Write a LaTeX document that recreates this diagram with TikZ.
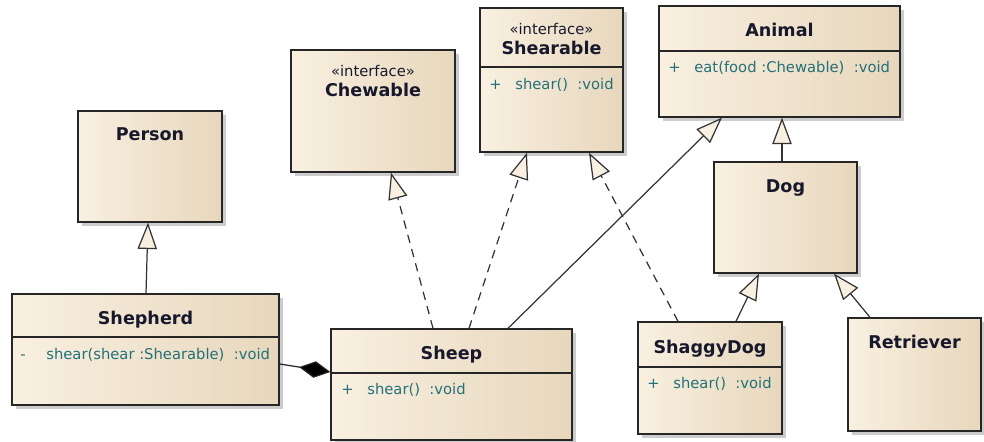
\documentclass[tikz,border=0pt]{standalone}
\usepackage{fontspec}
\setmainfont{DejaVu Sans}
\usetikzlibrary{arrows.meta, positioning, fit, shadows}
\definecolor{classlight}{RGB}{249,240,225}
\definecolor{classmid}{RGB}{250,242,230}
\definecolor{classdark}{RGB}{231,215,188}
\definecolor{namecol}{RGB}{24,24,44}
\definecolor{membercol}{RGB}{36,112,120}
\tikzstyle{umlclass} = [rectangle, inner sep=0pt, draw=black!85, line width=0.75pt, left color=classlight, middle color=classmid, right color=classdark, drop shadow={shadow xshift=0.08cm, shadow yshift=-0.08cm, fill=black!20, opacity=1}]
\tikzstyle{sep} = [draw=black!85, line width=0.6pt]
\tikzstyle{classname} = [inner sep=0pt, anchor=mid, font=\bfseries, text=namecol]
\tikzstyle{stereo} = [inner sep=0pt, anchor=mid, text=namecol]
\tikzstyle{member} = [inner sep=0pt, anchor=mid west, text=membercol]
\tikzstyle{inherit} = [draw=black!80, line width=0.7pt, -{Triangle[length=15pt, width=11pt, fill=classlight]}]
\tikzstyle{realize} = [inherit, dash pattern=on 4.8pt off 3.6pt]
\tikzstyle{compose} = [draw=black!85, line width=0.7pt, -{Diamond[length=18pt, width=9.5pt, fill=black]}]
\newcommand{\vis}[1]{\makebox[0.52cm][l]{#1}}

\begin{document}
\begin{tikzpicture}[x=0.02cm, y=-0.02cm, font=\fontsize{8.4}{10}\selectfont]
\useasboundingbox (0,0) rectangle (984,442);

\node (person) [umlclass, fit={(78,111) (222,222)}] {};
\node (personname) [classname] at (person.north |- 0,136) {Person};

\node (shepherd) [umlclass, fit={(12,294) (279,405)}] {};
\node (shepherdname) [classname] at (shepherd.north |- 0,320) {Shepherd};
\draw [sep] (shepherd.west |- 0,337) -- (shepherd.east |- 0,337);
\node (shepherdop) [member] at (20,355) {\vis{-}shear(shear :Shearable)~~:void};

\node (chewable) [umlclass, fit={(291,50) (455,172)}] {};
\node (chewablest) [stereo] at (chewable.north |- 0,72) {«interface»};
\node (chewablename) [classname] at (chewable.north |- 0,92) {Chewable};

\node (shearable) [umlclass, fit={(480,8) (623,152)}] {};
\node (shearablest) [stereo] at (shearable.north |- 0,30) {«interface»};
\node (shearablename) [classname] at (shearable.north |- 0,50) {Shearable};
\draw [sep] (shearable.west |- 0,67) -- (shearable.east |- 0,67);
\node (shearableop) [member] at (489,85) {\vis{+}shear()~~:void};

\node (animal) [umlclass, fit={(659,6) (900,117)}] {};
\node (animalname) [classname] at (animal.north |- 0,32) {Animal};
\draw [sep] (animal.west |- 0,51) -- (animal.east |- 0,51);
\node (animalop) [member] at (668,68) {\vis{+}eat(food :Chewable)~~:void};

\node (dog) [umlclass, fit={(714,162) (857,273)}] {};
\node (dogname) [classname] at (dog.north |- 0,188) {Dog};

\node (sheep) [umlclass, fit={(331,329) (572,440)}] {};
\node (sheepname) [classname] at (sheep.north |- 0,355) {Sheep};
\draw [sep] (sheep.west |- 0,373) -- (sheep.east |- 0,373);
\node (sheepop) [member] at (341,390) {\vis{+}shear()~~:void};

\node (shaggydog) [umlclass, fit={(638,322) (782,434)}] {};
\node (shaggydogname) [classname] at (shaggydog.north |- 0,349) {ShaggyDog};
\draw [sep] (shaggydog.west |- 0,367) -- (shaggydog.east |- 0,367);
\node (shaggydogop) [member] at (647,384) {\vis{+}shear()~~:void};

\node (retriever) [umlclass, fit={(848,318) (981,431)}] {};
\node (retrievername) [classname] at (retriever.north |- 0,344) {Retriever};

\draw [inherit] (146,0 |- shepherd.north) -- (148,0 |- person.south);
\draw [realize] (433,0 |- sheep.north) -- (391,0 |- chewable.south);
\draw [realize] (469,0 |- sheep.north) -- (527,0 |- shearable.south);
\draw [realize] (678,0 |- shaggydog.north) -- (589,0 |- shearable.south);
\draw [inherit] (508,0 |- sheep.north) -- (722,0 |- animal.south);
\draw [inherit] (782,0 |- dog.north) -- (782,0 |- animal.south);
\draw [inherit] (736,0 |- shaggydog.north) -- (759,0 |- dog.south);
\draw [inherit] (870,0 |- retriever.north) -- (834,0 |- dog.south);
\draw [compose] (shepherd.east |- 0,364) -- (sheep.west |- 0,372);
\end{tikzpicture}
\end{document}
